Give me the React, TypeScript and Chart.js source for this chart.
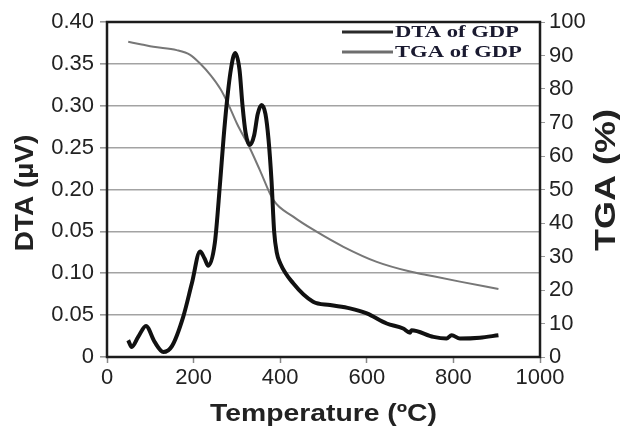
import { useEffect, useRef } from "react";
import { Chart, registerables } from "chart.js";

Chart.register(...registerables);

// ---- Data ----
const dtaTemp = [49, 57, 72, 90, 110, 130, 150, 176, 196, 215, 225, 234, 249, 261, 269, 276, 286, 296, 306, 313, 320, 330, 340, 348, 357, 366, 373, 380, 386, 392, 400, 430, 476, 515, 561, 600, 646, 684, 700, 703, 754, 784, 796, 815, 861, 904];
const dtaValue = [0.020, 0.012, 0.024, 0.037, 0.018, 0.006, 0.013, 0.048, 0.088, 0.126, 0.118, 0.109, 0.136, 0.207, 0.260, 0.300, 0.343, 0.363, 0.343, 0.300, 0.268, 0.253, 0.265, 0.290, 0.301, 0.290, 0.260, 0.210, 0.150, 0.125, 0.112, 0.088, 0.066, 0.062, 0.058, 0.052, 0.040, 0.034, 0.029, 0.032, 0.024, 0.022, 0.026, 0.022, 0.023, 0.026];

const tgaTemp = [49, 80, 107, 161, 192, 215, 240, 262, 280, 300, 330, 353, 384, 430, 484, 546, 623, 700, 738, 815, 904];
const tgaValue = [94.1, 93.3, 92.6, 91.6, 90.2, 87.6, 84.0, 80.0, 75.5, 69.7, 62.3, 55.8, 46.9, 41.9, 37.4, 32.9, 28.4, 25.5, 24.5, 22.5, 20.3];

const xTickLabels = ["0", "200", "400", "600", "800", "1000"];
const dtaTickLabels = ["0", "0.05", "0.10", "0.05", "0.20", "0.25", "0.30", "0.35", "0.40"];
const seriesNames = ["DTA of GDP", "TGA of GDP"];
const xTitle = "Temperature (ºC)";
const yLeftTitle = "DTA (µV)";
const yRightTitle = "TGA (%)";

const SANS = '"Liberation Sans", Arial, sans-serif';
const SERIF = '"Liberation Serif", "Times New Roman", serif';

function drawText(
  ctx: CanvasRenderingContext2D,
  text: string,
  x: number,
  y: number,
  rot: number,
  font: string,
  sx: number,
  color: string,
  align: CanvasTextAlign = "center"
) {
  ctx.save();
  ctx.translate(x, y);
  ctx.rotate(rot);
  ctx.scale(sx, 1);
  ctx.font = font;
  ctx.fillStyle = color;
  ctx.textAlign = align;
  ctx.textBaseline = "alphabetic";
  ctx.fillText(text, 0, 0);
  ctx.restore();
}

const decorPlugin = {
  id: "decor",
  afterDraw(chart: any) {
    const { ctx, chartArea } = chart;
    const { left, right, top, bottom } = chartArea;
    ctx.save();
    // frame
    ctx.strokeStyle = "#1c1c1c";
    ctx.lineWidth = 2.5;
    ctx.strokeRect(left, top, right - left, bottom - top);

    // axis titles
    drawText(ctx, xTitle, (left + right) / 2, 421, 0, `bold 24px ${SANS}`, 1.18, "#222");
    drawText(ctx, yLeftTitle, 33, 193, -Math.PI / 2, `bold 25px ${SANS}`, 1.12, "#222");
    drawText(ctx, yRightTitle, 615, 180, -Math.PI / 2, `bold 30px ${SANS}`, 1.2, "#222");

    // legend
    const legendColors = ["#2a2a2a", "#6e6e6e"];
    const legendY = [32, 52];
    for (let i = 0; i < seriesNames.length; i++) {
      ctx.strokeStyle = legendColors[i];
      ctx.lineWidth = 3;
      ctx.beginPath();
      ctx.moveTo(342, legendY[i]);
      ctx.lineTo(393, legendY[i]);
      ctx.stroke();
      drawText(ctx, seriesNames[i], 395, legendY[i] + 5, 0, `bold 17px ${SERIF}`, 1.33, "#1a1a30", "left");
    }
    ctx.restore();
  },
};

export default function App() {
  const canvasRef = useRef<HTMLCanvasElement | null>(null);

  useEffect(() => {
    const canvas = canvasRef.current;
    if (!canvas) return;
    const chart = new Chart(canvas, {
      type: "line",
      data: {
        datasets: [
          {
            label: seriesNames[0],
            data: dtaTemp.map((t, i) => ({ x: t, y: dtaValue[i] })),
            borderColor: "#111111",
            borderWidth: 4,
            pointRadius: 0,
            cubicInterpolationMode: "monotone",
            yAxisID: "y",
          },
          {
            label: seriesNames[1],
            data: tgaTemp.map((t, i) => ({ x: t, y: tgaValue[i] })),
            borderColor: "#777777",
            borderWidth: 2,
            pointRadius: 0,
            cubicInterpolationMode: "monotone",
            yAxisID: "y1",
          },
        ],
      },
      options: {
        animation: false,
        responsive: false,
        maintainAspectRatio: false,
        layout: { padding: { top: 22, left: 0, right: 0, bottom: 0 } },
        plugins: {
          legend: { display: false },
          tooltip: { enabled: false },
        },
        scales: {
          x: {
            type: "linear",
            min: 0,
            max: 1000,
            ticks: {
              stepSize: 200,
              color: "#222",
              font: { family: SANS, size: 22 },
              padding: 2,
              maxRotation: 0,
              callback: (_v: any, i: number) => xTickLabels[i] ?? "",
            },
            grid: { drawOnChartArea: false, tickLength: 6, color: "#888", tickWidth: 1.5 },
            border: { display: false },
            afterFit: (s: any) => {
              s.height = 71;
            },
          },
          y: {
            type: "linear",
            position: "left",
            min: 0,
            max: 0.4,
            ticks: {
              stepSize: 0.05,
              color: "#222",
              font: { family: SANS, size: 22 },
              padding: 6,
              callback: (_v: any, i: number) => dtaTickLabels[i] ?? "",
            },
            grid: { color: "#a3a3a3", lineWidth: 1.6, tickLength: 7, tickColor: "#999" },
            border: { display: false },
            afterFit: (s: any) => {
              s.width = 107;
            },
          },
          y1: {
            type: "linear",
            position: "right",
            min: 0,
            max: 100,
            ticks: {
              stepSize: 10,
              color: "#222",
              font: { family: SANS, size: 22 },
              padding: 4,
            },
            grid: { drawOnChartArea: false, tickLength: 5, color: "#999" },
            border: { display: false },
            afterFit: (s: any) => {
              s.width = 80;
            },
          },
        },
      },
      plugins: [decorPlugin],
    } as any);
    return () => chart.destroy();
  }, []);

  return (
    <div style={{ position: "fixed", left: 0, top: 0, width: 620, height: 428, background: "#fff" }}>
      <canvas ref={canvasRef} width={620} height={428} />
    </div>
  );
}
